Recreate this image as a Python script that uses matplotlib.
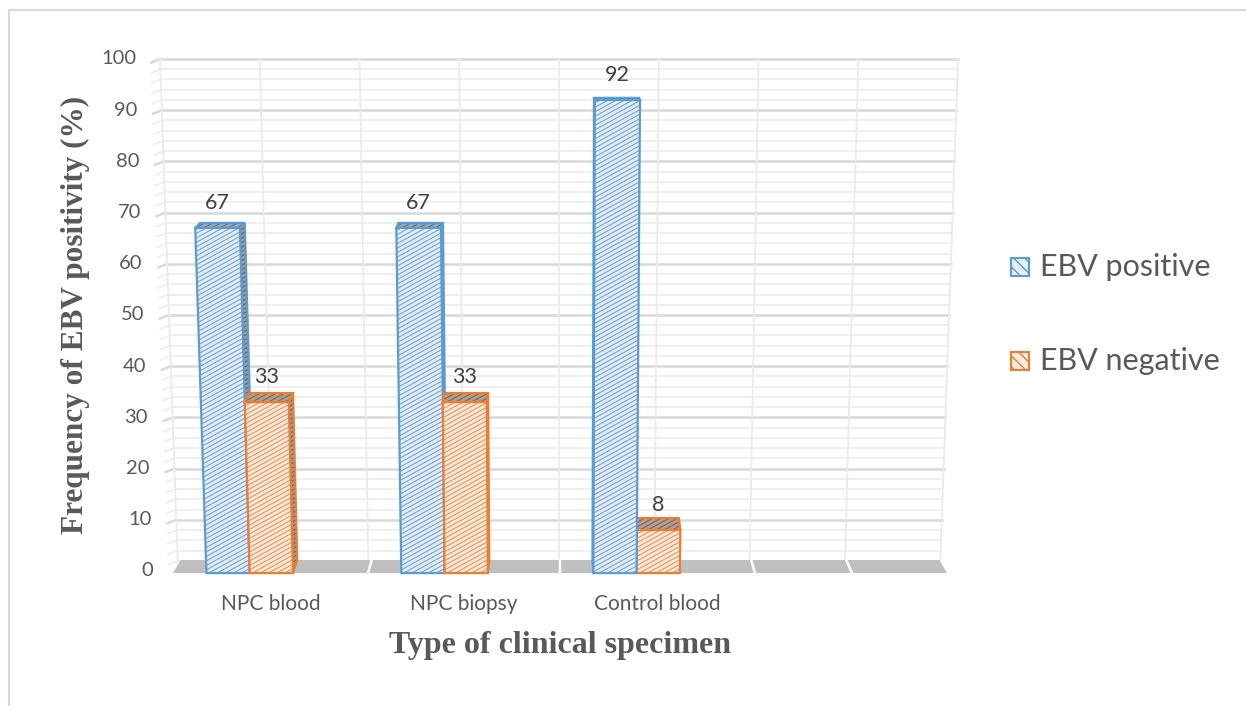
import matplotlib
matplotlib.use('Agg')
import matplotlib.pyplot as plt
from matplotlib.patches import Polygon, Rectangle
from matplotlib.collections import LineCollection
from matplotlib.lines import Line2D

# Dados do gráfico
categorias = ['NPC blood', 'NPC biopsy', 'Control blood']
ebv_positivo = [67, 67, 92]
ebv_negativo = [33, 33, 8]
series = ['EBV positive', 'EBV negative']
ticks_y = list(range(0, 101, 10))

W, H = 1246, 706
SANS = 'Lato'
SERIF = 'Liberation Serif'
CINZA = '#595959'

# conversão pixel -> unidades do eixo
def u_px(px):
    return (px - 160) / 99.5

def v_px(py):
    return (571 - py) / 5.12

# perspectiva simples: as verticais convergem para baixo em direção ao centro
U0 = 4.0
C = 4.74e-4

def P(u, v):
    return U0 + (u - U0) * (1 + C * v)

def profundidade(u, v):
    return (U0 - u) * 0.0148, 0.023 * (109.5 - v)

def face_hachurada(ax, pts, fundo, cor_linha, cor_borda, z, lw=1.6):
    poly = Polygon(pts, closed=True, facecolor=fundo, edgecolor='none', zorder=z)
    ax.add_patch(poly)
    us = [p[0] for p in pts]
    vs = [p[1] for p in pts]
    k = 0.55 * 99.5 / 5.12
    passo = 4.5 / 5.12
    b = min(vs) - k * max(us)
    segs = []
    while b < max(vs) - k * min(us):
        segs.append([(min(us), b + k * min(us)), (max(us), b + k * max(us))])
        b += passo
    lc = LineCollection(segs, colors=cor_linha, linewidths=0.9, zorder=z)
    ax.add_collection(lc, autolim=False)
    lc.set_clip_path(poly)
    ax.add_patch(Polygon(pts, closed=True, fill=False, edgecolor=cor_borda,
                         linewidth=lw, zorder=z, joinstyle='miter'))

estilos = {
    'pos': dict(frente='#e6eff9', linha='#7aaadc', borda='#5b9bd5',
                topo='#a3a7ad', linha_topo='#5f7590'),
    'neg': dict(frente='#fcebdf', linha='#f09a5e', borda='#ed7d31',
                topo='#aaa39e', linha_topo='#9a6440'),
}

def barra3d(ax, ul, largura, valor, est, z):
    vb = -0.4
    ur = ul + largura
    fl, fr = (P(ul, vb), vb), (P(ur, vb), vb)
    tl, tr = (P(ul, valor), valor), (P(ur, valor), valor)
    meio = ul + largura / 2
    dut, dvt = profundidade(meio, valor)
    dub, dvb = profundidade(meio, vb)
    topo = [tl, tr, (tr[0] + dut, tr[1] + dvt), (tl[0] + dut, tl[1] + dvt)]
    if meio < U0:
        lado = [fr, tr, (tr[0] + dut, tr[1] + dvt), (fr[0] + dub, fr[1] + dvb)]
    else:
        lado = [fl, tl, (tl[0] + dut, tl[1] + dvt), (fl[0] + dub, fl[1] + dvb)]
    face_hachurada(ax, lado, '#9b9b9b', '#6a6a6a', est['borda'], z)
    face_hachurada(ax, topo, est['topo'], est['linha_topo'], est['borda'], z + 0.1)
    face_hachurada(ax, [fl, fr, tr, tl], est['frente'], est['linha'], est['borda'], z + 0.2)
    return (tl[0] + tr[0]) / 2


fig = plt.figure(figsize=(W / 100, H / 100), dpi=100)
ax = fig.add_axes([140 / W, (H - 600) / H, 830 / W, 560 / H])
ax.axis('off')

# parede do fundo
base_parede = [0.181 + k * 7.658 / 8 for k in range(9)]
for v in range(2, 101, 2):
    cor = '#d9d9d9' if v % 10 == 0 else '#eeeeee'
    lw = 1.8 if v % 10 == 0 else 1.3
    xl, xr = P(base_parede[0], v), P(base_parede[-1], v)
    ax.plot([xl, xr], [v, v], color=cor, lw=lw, zorder=1)
    ax.plot([xl - 0.09, xl], [v - 0.7, v], color=cor, lw=lw, zorder=1)
for ub in base_parede:
    ax.plot([P(ub, 0), P(ub, 100)], [0, 100], color='#ebebeb', lw=1.3, zorder=1.2)

# piso
divisoes = [0.131, 2.09, 4.02, 5.98, 6.955, 7.91]
tras = [U0 + (d - U0) * 0.98 for d in divisoes]
v_frente, v_tras = -0.4, 2.15
ax.add_patch(Polygon([(divisoes[0], v_frente), (tras[0], v_tras),
                      (tras[-1], v_tras), (divisoes[-1], v_frente)],
                     closed=True, facecolor='#bfbfbf', edgecolor='none', zorder=2))
for d, t in zip(divisoes[1:-1], tras[1:-1]):
    ax.plot([d, t], [v_frente, v_tras], color='white', lw=1.8, zorder=2.1)

# barras
largura = 0.435
barras = []
for i in range(len(categorias)):
    ul = divisoes[i] + 0.335
    barras.append((ul, ebv_positivo[i], 'pos'))
    barras.append((ul + largura, ebv_negativo[i], 'neg'))
barras.sort(key=lambda b: -abs(b[0] + largura / 2 - U0))
for z, (ul, valor, chave) in enumerate(barras):
    xc = barra3d(ax, ul, largura, valor, estilos[chave], 3 + z)
    ax.text(xc, valor + 4.8, f'{valor}', ha='center', va='center',
            fontsize=15.5, color='#404040', family=SANS, zorder=20)

# rótulos das categorias
for i, nome in enumerate(categorias):
    ax.text((divisoes[i] + divisoes[i + 1]) / 2, v_px(604), nome, ha='center',
            va='center', fontsize=15, color=CINZA, family=SANS, clip_on=False)

# rótulos do eixo y
for t in ticks_y:
    ax.text(u_px(153 - 0.17 * t), t, str(t), ha='right', va='center',
            fontsize=14.5, color=CINZA, family=SANS, clip_on=False)

ax.set_xlim(u_px(140), u_px(970))
ax.set_ylim(v_px(600), v_px(40))

# títulos dos eixos
fig.text(75 / W, 1 - 315 / H, 'Frequency of EBV positivity (%)', rotation=90,
         ha='center', va='center', fontsize=22.5, fontweight='bold',
         color=CINZA, family=SERIF)
fig.text(560 / W, 1 - 645 / H, 'Type of clinical specimen', ha='center',
         va='center', fontsize=23, fontweight='bold', color=CINZA, family=SERIF)

# legenda
for nome, chave, yb in zip(series, ['pos', 'neg'], [276, 370]):
    est = estilos[chave]
    fig.add_artist(Rectangle((1011 / W, 1 - (yb) / H), 18 / W, 18 / H,
                             transform=fig.transFigure, facecolor=est['frente'],
                             edgecolor=est['borda'], hatch='\\\\\\', lw=1.5))
    fig.text(1040 / W, 1 - yb / H, nome, ha='left', va='baseline',
             fontsize=22, color=CINZA, family=SANS)

# moldura
fig.add_artist(Line2D([9 / W, 9 / W], [0, 1 - 10 / H], transform=fig.transFigure,
                      color='#d9d9d9', lw=1.5))
fig.add_artist(Line2D([9 / W, 1], [1 - 10 / H, 1 - 10 / H], transform=fig.transFigure,
                      color='#d9d9d9', lw=1.5))

fig.savefig('out.png', dpi=100, facecolor='white')
